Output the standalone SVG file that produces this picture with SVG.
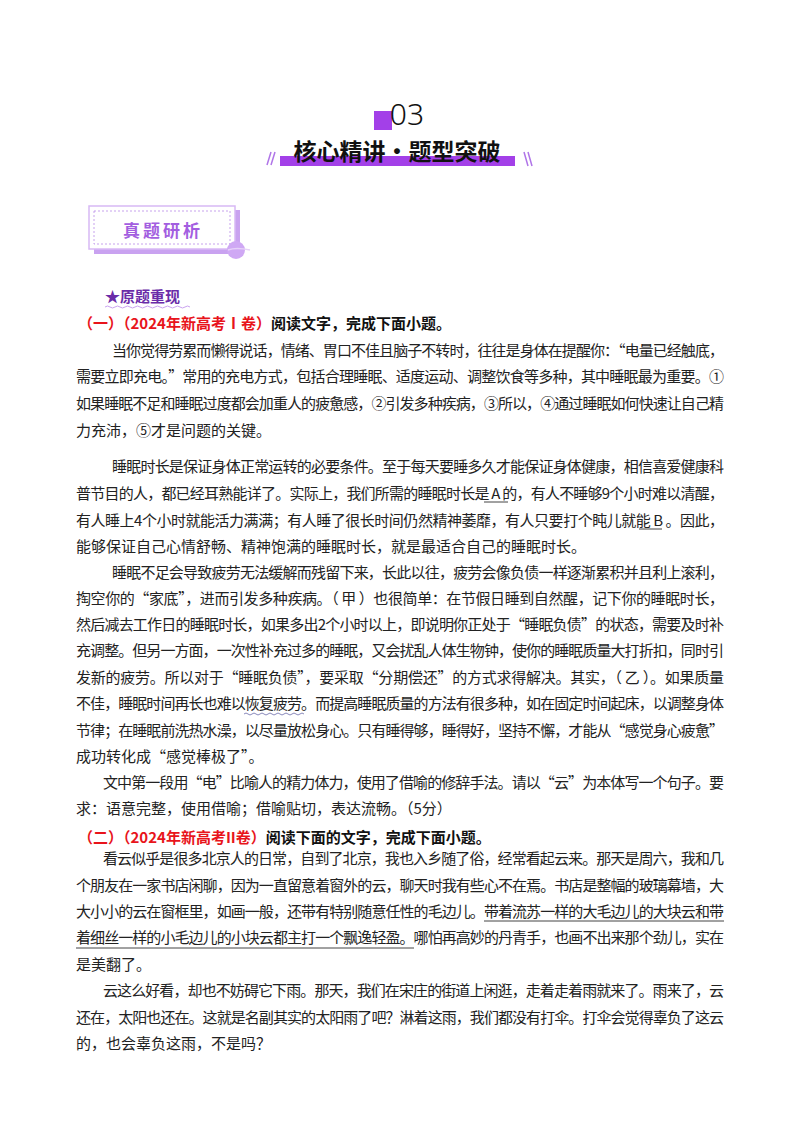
<svg xmlns="http://www.w3.org/2000/svg" width="800" height="1132" viewBox="0 0 800 1132">
<style>
.b{font-family:"Noto Sans CJK SC",sans-serif;font-size:15px;fill:#222}
.h{font-family:"Noto Sans CJK SC",sans-serif;font-size:15px;font-weight:bold;fill:#111}
.r{fill:#e8141b}
.u{stroke:#444;stroke-width:1}
</style>
<rect width="800" height="1132" fill="#fff"/>
<g id="header">
<rect x="374" y="111" width="18" height="19" fill="#a340e8"/>
<text x="407" y="125" text-anchor="middle" font-family="Noto Sans, sans-serif" font-size="30" font-weight="300" fill="#111">03</text>
<rect x="280" y="156" width="235" height="10" fill="#a340e8"/>
<text x="397" y="160" text-anchor="middle" font-family="Noto Sans CJK SC, sans-serif" font-size="23" font-weight="bold" fill="#111">核心精讲•题型突破</text>
<path d="M267 165 L271 152 M271 165 L275 152 M524 152 L528 166 M528 152 L532 166" stroke="#b075e8" stroke-width="1.5"/>
</g>
<g id="zhenti">
<rect x="94" y="210" width="146" height="44" fill="#c9a2f0"/>
<rect x="89" y="206" width="146" height="43" fill="#fff" stroke="#d8b9f5" stroke-width="1.5"/>
<rect x="94" y="211" width="136" height="33" fill="none" stroke="#b98ae8" stroke-width="0.8" stroke-dasharray="2,2"/>
<circle cx="236" cy="250" r="9" fill="#cfa8f4"/>
<path d="M228 250 Q236 247 250 250" stroke="#e6d1f9" stroke-width="1.5" fill="none"/>
<text x="163" y="237" text-anchor="middle" font-family="Noto Sans CJK SC, sans-serif" font-size="17" font-weight="bold" fill="#a35ee0" letter-spacing="3">真题研析</text>
</g>
<g id="yuanti">
<text x="105" y="302" font-family="Noto Sans CJK SC, sans-serif" font-size="15" font-weight="bold" fill="#6a2ca8">★原题重现</text>
<path d="M105 307 q2.5 -2 5 0 t5 0 t5 0 t5 0 t5 0 t5 0 t5 0 t5 0 t5 0 t5 0 t5 0 t5 0 t5 0 t5 0 t5 0 t5 0 t5 0" stroke="#c9a2f0" fill="none" stroke-width="1"/>
</g>
<g id="s1">
<text x="78" y="329" class="h"><tspan class="r">（一）（2024年新高考Ⅰ卷）</tspan>阅读文字，完成下面小题。</text>
<text x="112" y="356" class="b" textLength="612" lengthAdjust="spacing">当你觉得劳累而懒得说话，情绪、胃口不佳且脑子不转时，往往是身体在提醒你：“电量已经触底，</text>
<text x="76" y="382" class="b" textLength="648" lengthAdjust="spacing">需要立即充电。”常用的充电方式，包括合理睡眠、适度运动、调整饮食等多种，其中睡眠最为重要。①</text>
<text x="76" y="409" class="b" textLength="648" lengthAdjust="spacing">如果睡眠不足和睡眠过度都会加重人的疲惫感，②引发多种疾病，③所以，④通过睡眠如何快速让自己精</text>
<text x="76" y="436" class="b">力充沛，⑤才是问题的关键。</text>
<text x="112" y="472" class="b" textLength="612" lengthAdjust="spacing">睡眠时长是保证身体正常运转的必要条件。至于每天要睡多久才能保证身体健康，相信喜爱健康科</text>
<text x="76" y="499" class="b" textLength="648" lengthAdjust="spacing">普节目的人，都已经耳熟能详了。实际上，我们所需的睡眠时长是 A 的，有人不睡够9个小时难以清醒，</text>
<line x1="484" y1="502" x2="508" y2="502" class="u"/>
<text x="76" y="526" class="b" textLength="648" lengthAdjust="spacing">有人睡上4个小时就能活力满满；有人睡了很长时间仍然精神萎靡，有人只要打个盹儿就能 B 。因此，</text>
<line x1="639" y1="529" x2="662" y2="529" class="u"/>
<text x="76" y="552" class="b">能够保证自己心情舒畅、精神饱满的睡眠时长，就是最适合自己的睡眠时长。</text>
<text x="112" y="578" class="b" textLength="612" lengthAdjust="spacing">睡眠不足会导致疲劳无法缓解而残留下来，长此以往，疲劳会像负债一样逐渐累积并且利上滚利，</text>
<text x="76" y="604" class="b" textLength="648" lengthAdjust="spacing">掏空你的“家底”，进而引发多种疾病。（ 甲 ）也很简单：在节假日睡到自然醒，记下你的睡眠时长，</text>
<text x="76" y="630" class="b" textLength="648" lengthAdjust="spacing">然后减去工作日的睡眠时长，如果多出2个小时以上，即说明你正处于“睡眠负债”的状态，需要及时补</text>
<text x="76" y="656" class="b" textLength="648" lengthAdjust="spacing">充调整。但另一方面，一次性补充过多的睡眠，又会扰乱人体生物钟，使你的睡眠质量大打折扣，同时引</text>
<text x="76" y="683" class="b" textLength="648" lengthAdjust="spacing">发新的疲劳。所以对于“睡眠负债”，要采取“分期偿还”的方式求得解决。其实，（ 乙 ）。如果质量</text>
<text x="76" y="709" class="b" textLength="648" lengthAdjust="spacing">不佳，睡眠时间再长也难以恢复疲劳。而提高睡眠质量的方法有很多种，如在固定时间起床，以调整身体</text>
<path d="M244 714 q2 -2 4 0 t4 0 t4 0 t4 0 t4 0 t4 0 t4 0 t4 0 t4 0 t4 0 t4 0 t4 0 t4 0 t4 0 t4 0" stroke="#6a6aa8" fill="none" stroke-width="0.8"/>
<text x="76" y="736" class="b" textLength="648" lengthAdjust="spacing">节律；在睡眠前洗热水澡，以尽量放松身心。只有睡得够，睡得好，坚持不懈，才能从“感觉身心疲惫”</text>
<text x="76" y="762" class="b">成功转化成“感觉棒极了”。</text>
<text x="103" y="788" class="b" textLength="621" lengthAdjust="spacing">文中第一段用“电”比喻人的精力体力，使用了借喻的修辞手法。请以“云”为本体写一个句子。要</text>
<text x="76" y="814" class="b">求：语意完整，使用借喻；借喻贴切，表达流畅。（5分）</text>
</g>
<g id="s2">
<text x="78" y="843" class="h"><tspan class="r">（二）（2024年新高考II卷）</tspan>阅读下面的文字，完成下面小题。</text>
<text x="103" y="864" class="b" textLength="621" lengthAdjust="spacing">看云似乎是很多北京人的日常，自到了北京，我也入乡随了俗，经常看起云来。那天是周六，我和几</text>
<text x="76" y="891" class="b" textLength="648" lengthAdjust="spacing">个朋友在一家书店闲聊，因为一直留意着窗外的云，聊天时我有些心不在焉。书店是整幅的玻璃幕墙，大</text>
<text x="76" y="917" class="b" textLength="648" lengthAdjust="spacing">大小小的云在窗框里，如画一般，还带有特别随意任性的毛边儿。带着流苏一样的大毛边儿的大块云和带</text>
<line x1="484" y1="921" x2="724" y2="921" class="u"/>
<text x="76" y="943" class="b" textLength="648" lengthAdjust="spacing">着细丝一样的小毛边儿的小块云都主打一个飘逸轻盈。哪怕再高妙的丹青手，也画不出来那个劲儿，实在</text>
<line x1="76" y1="948" x2="414" y2="948" class="u"/>
<text x="76" y="970" class="b">是美翻了。</text>
<text x="103" y="996" class="b" textLength="621" lengthAdjust="spacing">云这么好看，却也不妨碍它下雨。那天，我们在宋庄的街道上闲逛，走着走着雨就来了。雨来了，云</text>
<text x="76" y="1023" class="b" textLength="648" lengthAdjust="spacing">还在，太阳也还在。这就是名副其实的太阳雨了吧？淋着这雨，我们都没有打伞。打伞会觉得辜负了这云</text>
<text x="76" y="1049" class="b">的，也会辜负这雨，不是吗？</text>
</g>
</svg>
